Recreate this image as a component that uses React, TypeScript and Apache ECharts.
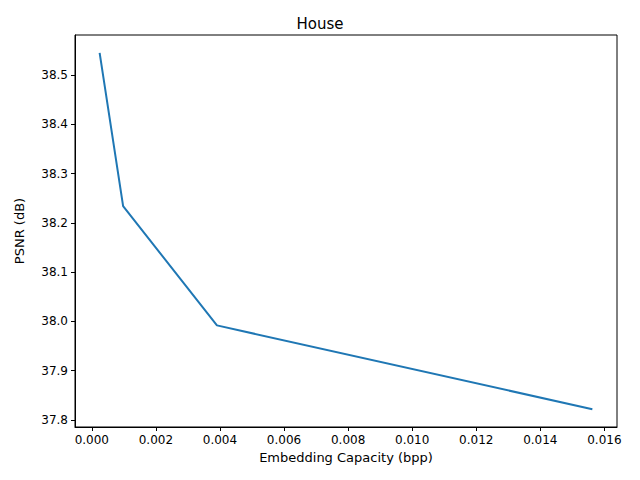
import { useEffect, useRef } from "react";
import * as echarts from "echarts";

const capacity = [0.000244, 0.000977, 0.003906, 0.015625];
const psnr = [38.545, 38.234, 37.992, 37.822];
const xTicks = [0, 0.002, 0.004, 0.006, 0.008, 0.01, 0.012, 0.014, 0.016];
const yTicks = [37.8, 37.9, 38.0, 38.1, 38.2, 38.3, 38.4, 38.5];

const font = "DejaVu Sans";

export default function App() {
  const ref = useRef<HTMLDivElement>(null);

  useEffect(() => {
    if (!ref.current) return;
    const chart = echarts.init(ref.current, null, { renderer: "svg" });
    const xr = capacity[capacity.length - 1] - capacity[0];
    const yr = Math.max(...psnr) - Math.min(...psnr);
    chart.setOption({
      animation: false,
      backgroundColor: "#fff",
      title: {
        text: "House",
        left: "center",
        top: 11,
        textStyle: { fontFamily: font, fontSize: 15, fontWeight: "normal", color: "#000" },
      },
      grid: { left: 75, right: 23, top: 35, bottom: 53 },
      xAxis: {
        type: "value",
        min: capacity[0] - 0.05 * xr,
        max: capacity[capacity.length - 1] + 0.05 * xr,
        name: "Embedding Capacity (bpp)",
        nameLocation: "middle",
        nameGap: 24,
        nameTextStyle: { fontFamily: font, fontSize: 13, color: "#000" },
        axisLine: { onZero: false, lineStyle: { color: "#000" } },
        axisTick: { customValues: xTicks, length: 4, lineStyle: { color: "#000" } },
        axisLabel: {
          customValues: xTicks,
          fontFamily: font,
          fontSize: 12,
          color: "#000",
          margin: 7,
          formatter: (v: number) => v.toFixed(3),
        },
        splitLine: { show: false },
      },
      yAxis: {
        type: "value",
        min: Math.min(...psnr) - 0.05 * yr,
        max: Math.max(...psnr) + 0.05 * yr,
        name: "PSNR (dB)",
        nameLocation: "middle",
        nameGap: 49,
        nameTextStyle: { fontFamily: font, fontSize: 13, color: "#000" },
        axisLine: { show: true, onZero: false, lineStyle: { color: "#000" } },
        axisTick: { show: true, customValues: yTicks, length: 4, lineStyle: { color: "#000" } },
        axisLabel: {
          customValues: yTicks,
          fontFamily: font,
          fontSize: 12,
          color: "#000",
          margin: 7,
          formatter: (v: number) => v.toFixed(1),
        },
        splitLine: { show: false },
      },
      graphic: [
        {
          type: "rect",
          shape: { x: 75, y: 35, width: 542, height: 392 },
          style: { fill: "none", stroke: "#000", lineWidth: 1 },
          silent: true,
        },
      ],
      series: [
        {
          type: "line",
          data: capacity.map((c, i) => [c, psnr[i]]),
          symbol: "none",
          lineStyle: { color: "#1f77b4", width: 2 },
        },
      ],
    });
    return () => chart.dispose();
  }, []);

  return <div ref={ref} style={{ width: 640, height: 480, margin: -8 }} />;
}
